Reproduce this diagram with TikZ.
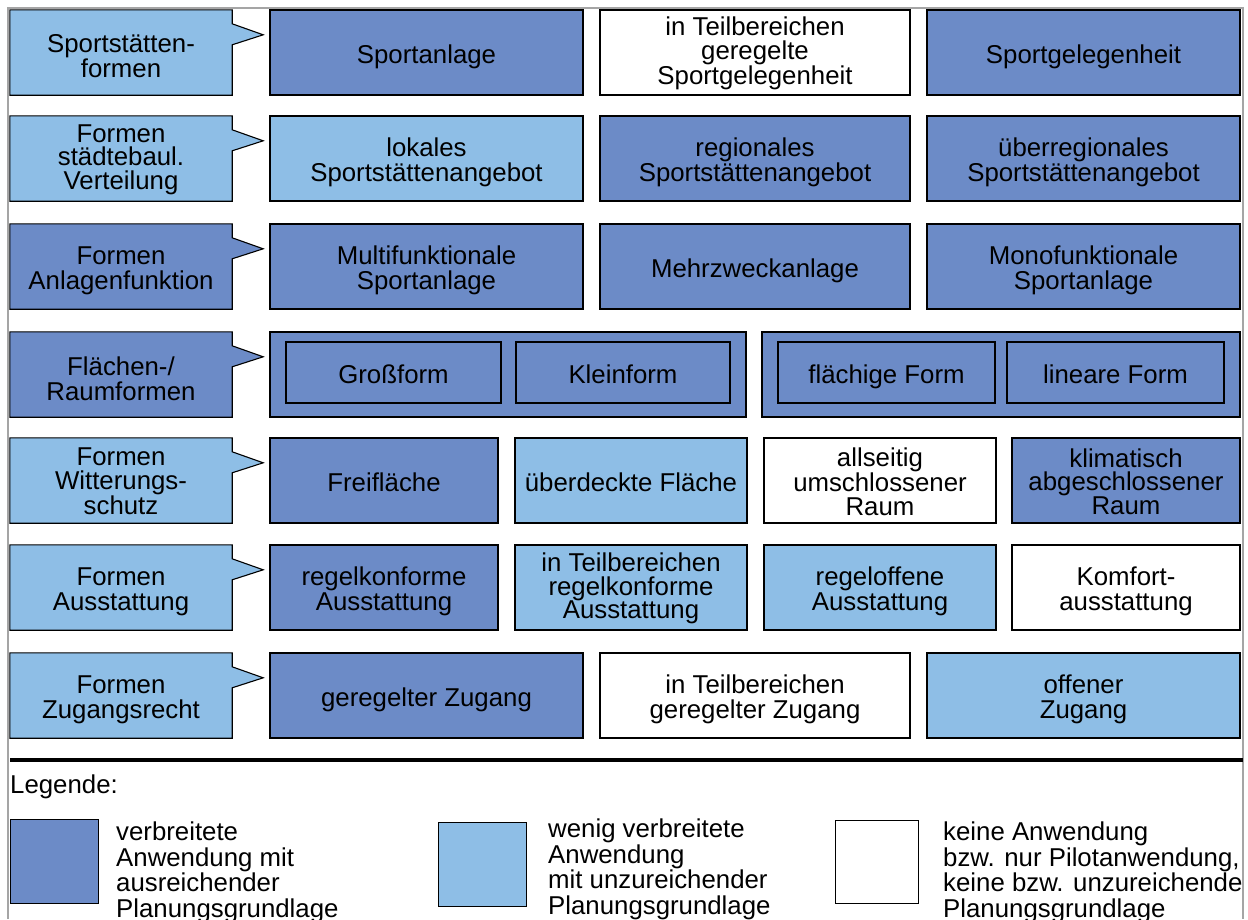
\documentclass[tikz,border=0pt]{standalone}
\usepackage{fontspec}
\setmainfont{Liberation Sans}
\usetikzlibrary{backgrounds}
\definecolor{darkblue}{RGB}{108,139,199}
\definecolor{lightblue}{RGB}{142,190,230}
\definecolor{framegray}{RGB}{165,165,165}
\tikzset{
  txt/.style={font=\fontsize{25.8}{25}\selectfont, text=black, align=center, inner sep=0pt, yshift=-4pt},
  txti/.style={font=\fontsize{25.8}{25}\selectfont, text=black, inner sep=0pt, text height=18.5pt, text depth=5.5pt, yshift=-4.5pt},
  txtiii/.style={font=\fontsize{25.8}{23.5}\selectfont, text=black, align=center, inner sep=0pt, yshift=-1pt},
  box/.style={draw=black, line width=1.1pt, minimum height=85pt, inner sep=0pt},
  inbox/.style={draw=black, line width=1.1pt, minimum height=61pt, inner sep=0pt},
  ctext/.style={minimum width=222pt, minimum height=85pt, inner sep=0pt},
  coutline/.style={draw=black, line width=1.1pt},
  dk/.style={fill=darkblue}, lt/.style={fill=lightblue}, wh/.style={fill=white},
  legtext/.style={font=\fontsize{25.8}{25.5}\selectfont, align=left, inner sep=0pt, anchor=north west},
  legbox/.style={draw=black, line width=1.1pt, minimum width=88pt, minimum height=84pt, inner sep=0pt, anchor=north west}
}
% box with text: [style]{name}{x}{y}{width}{text}
\newcommand\bx[6][box]{%
  \node[#1, minimum width=#5] (#2) at (#3,#4) {};
  \node[txt] (#2t) at (#2.center) {#6};}
\newcommand\bxi[6][box]{%
  \node[#1, minimum width=#5] (#2) at (#3,#4) {};
  \node[txti] (#2t) at (#2.center) {#6};}
\newcommand\bxiii[6][box]{%
  \node[#1, minimum width=#5] (#2) at (#3,#4) {};
  \node[txtiii] (#2t) at (#2.center) {#6};}
% callout: {name}{top}{fill}{text}{text style}
\newcommand\mycallout[5]{%
  \node[ctext] (#1) at (121,#2+42.5) {};
  \node[#5] (#1t) at (#1.center) {#4};
  \begin{pgfonlayer}{background}
  \draw[coutline, fill=#3] (#1.north west) -- (#1.north east) -- ++(0,14) -- ++(31,11) -- ++(-31,10) -- (#1.south east) -- (#1.south west) -- cycle;
  \end{pgfonlayer}}
\begin{document}
\begin{tikzpicture}[x=1pt,y=-1pt]
\useasboundingbox (0,0) rectangle (1248,919);
% frame
\draw[framegray, line width=2pt] (8,919) -- (8,8) -- (1243,8) -- (1243,919);

% Row 1
\mycallout{c1}{10}{lightblue}{Sportstätten-\\formen}{txt}
\bxi[box,dk]{r1a}{426.5}{52.5}{313pt}{Sportanlage}
\bxiii[box,wh]{r1b}{755}{52.5}{310pt}{in Teilbereichen\\geregelte\\Sportgelegenheit}
\bxi[box,dk]{r1c}{1083.5}{52.5}{313pt}{Sportgelegenheit}

% Row 2
\mycallout{c2}{116}{lightblue}{Formen\\städtebaul.\\Verteilung}{txtiii}
\bx[box,lt]{r2a}{426.5}{158.5}{313pt}{lokales\\Sportstättenangebot}
\bx[box,dk]{r2b}{755}{158.5}{310pt}{regionales\\Sportstättenangebot}
\bx[box,dk]{r2c}{1083.5}{158.5}{313pt}{überregionales\\Sportstättenangebot}

% Row 3
\mycallout{c3}{224}{darkblue}{Formen\\Anlagenfunktion}{txt}
\bx[box,dk]{r3a}{426.5}{266.5}{313pt}{Multifunktionale\\Sportanlage}
\bxi[box,dk]{r3b}{755}{266.5}{310pt}{Mehrzweckanlage}
\bx[box,dk]{r3c}{1083.5}{266.5}{313pt}{Monofunktionale\\Sportanlage}

% Row 4
\mycallout{c4}{332}{darkblue}{Flächen-/\\Raumformen}{txt}
\node[box,dk,minimum width=476pt] (r4l) at (508,374.5) {};
\node[box,dk,minimum width=478pt] (r4r) at (1001,374.5) {};
\bxi[inbox,dk]{r4a}{393.5}{372.5}{215pt}{Großform}
\bxi[inbox,dk]{r4b}{623}{372.5}{214pt}{Kleinform}
\bxi[inbox,dk]{r4c}{886.5}{372.5}{217pt}{flächige Form}
\bxi[inbox,dk]{r4d}{1115.5}{372.5}{217pt}{lineare Form}

% Row 5
\mycallout{c5}{438}{lightblue}{Formen\\Witterungs-\\schutz}{txtiii}
\bxi[box,dk]{r5a}{384}{480.5}{228pt}{Freifläche}
\bxi[box,lt]{r5b}{631}{480.5}{232pt}{überdeckte Fläche}
\bxiii[box,wh]{r5c}{880}{480.5}{232pt}{allseitig\\umschlossener\\Raum}
\bxiii[box,dk]{r5d}{1126}{480.5}{228pt}{klimatisch\\abgeschlossener\\Raum}

% Row 6
\mycallout{c6}{545}{lightblue}{Formen\\Ausstattung}{txt}
\bx[box,dk]{r6a}{384}{587.5}{228pt}{regelkonforme\\Ausstattung}
\bxiii[box,lt]{r6b}{631}{587.5}{232pt}{in Teilbereichen\\regelkonforme\\Ausstattung}
\bx[box,lt]{r6c}{880}{587.5}{232pt}{regeloffene\\Ausstattung}
\bx[box,wh]{r6d}{1126}{587.5}{228pt}{Komfort-\\ausstattung}

% Row 7
\mycallout{c7}{653}{lightblue}{Formen\\Zugangsrecht}{txt}
\bxi[box,dk]{r7a}{426.5}{695.5}{313pt}{geregelter Zugang}
\bx[box,wh]{r7b}{755}{695.5}{310pt}{in Teilbereichen\\geregelter Zugang}
\bx[box,lt]{r7c}{1083.5}{695.5}{313pt}{offener\\Zugang}

% separator
\coordinate (sepL) at (10,760);
\coordinate (sepR) at (1243,760);
\draw[black, line width=4pt] (sepL) -- (sepR);

% legend
\node[font=\fontsize{25.8}{25.5}\selectfont, anchor=west, inner sep=0pt] (leg) at (10,787) {Legende:};
\node[legbox, fill=darkblue] (lg1) at (10,819) {};
\node[legtext] (lt1) at (116,822) {verbreitete\\Anwendung mit\\ausreichender\\Planungsgrundlage};
\node[legbox, fill=lightblue] (lg2) at (438,822) {};
\node[legtext] (lt2) at (548,819) {wenig verbreitete\\Anwendung\\mit unzureichender\\Planungsgrundlage};
\node[legbox, fill=white, minimum width=83pt, minimum height=83pt] (lg3) at (835,820) {};
\node[legtext] (lt3) at (943,822) {keine Anwendung\\bzw. nur Pilotanwendung,\\keine bzw. unzureichende\\Planungsgrundlage};
\end{tikzpicture}
\end{document}
